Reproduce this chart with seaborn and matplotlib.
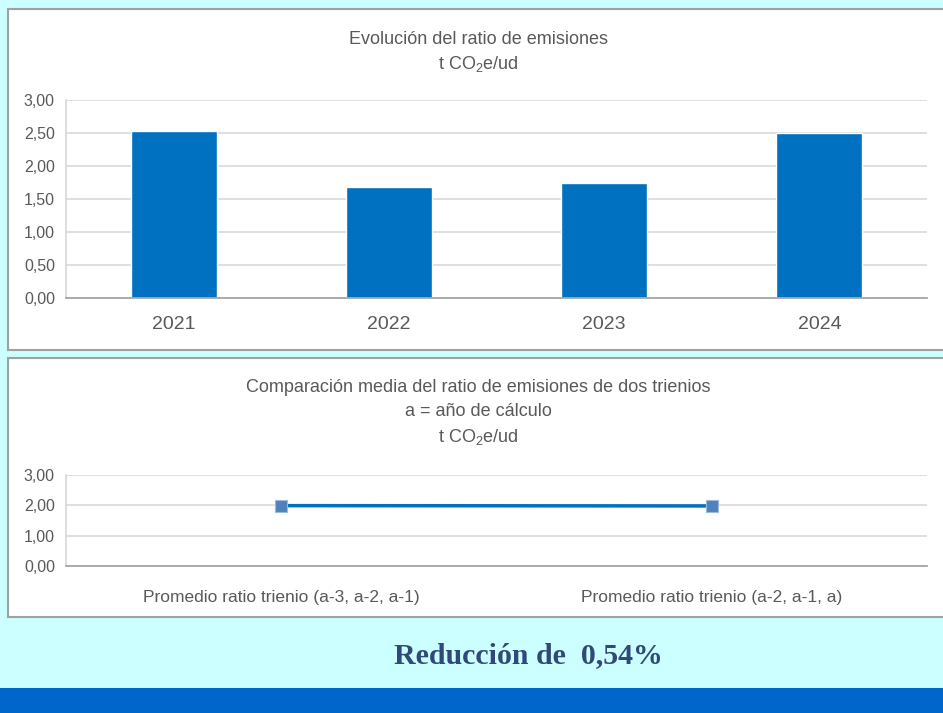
import pandas as pd
import matplotlib.pyplot as plt
import seaborn as sns
from matplotlib.patches import Rectangle

# Datos
years = ["2021", "2022", "2023", "2024"]
ratios = [2.53, 1.68, 1.75, 2.50]

periods = ["Promedio ratio trienio (a-3, a-2, a-1)", "Promedio ratio trienio (a-2, a-1, a)"]
period_means = [1.99, 1.98]

reduction_text = "Reducción de  0,54%"

W, H = 943, 713
BG = "#CCFFFF"
BAR = "#0070C0"
TXT = "#595959"
GRID = "#D9D9D9"

sns.set_theme(style="white")
plt.rcParams['font.family'] = ['Liberation Sans', 'DejaVu Sans']
plt.rcParams['mathtext.fontset'] = 'custom'
plt.rcParams['mathtext.rm'] = 'Liberation Sans'
plt.rcParams['mathtext.default'] = 'regular'

fig = plt.figure(figsize=(W / 100, H / 100), dpi=100, facecolor=BG)


def px_rect(x0, y0, x1, y1):
    # pixel coords (top-left origin) -> figure fraction
    return [x0 / W, 1 - y1 / H, (x1 - x0) / W, (y1 - y0) / H]


# paneles blancos (detrás de los ejes)
for (y0, y1) in [(9, 350), (358, 617)]:
    l, b, w, h = px_rect(8, y0, W + 5, y1)
    fig.patches.append(Rectangle((l, b), w, h, transform=fig.transFigure, zorder=-5,
                                 facecolor="white", edgecolor="#A0A0A0", linewidth=1.5))
# banda inferior
l, b, w, h = px_rect(0, 688, W, H)
fig.patches.append(Rectangle((l, b), w, h, transform=fig.transFigure, zorder=-5,
                             facecolor="#0066CC", edgecolor="none"))


def style_axes(ax):
    ax.set_facecolor("none")
    ax.grid(axis="y", color=GRID, linewidth=1.2)
    ax.set_axisbelow(True)
    for s in ["top", "right"]:
        ax.spines[s].set_visible(False)
    ax.spines["left"].set_color(GRID)
    ax.spines["bottom"].set_color("#A6A6A6")
    ax.spines["bottom"].set_linewidth(1.3)
    ax.tick_params(axis="both", length=0, colors=TXT)
    ax.set_xlabel("")
    ax.set_ylabel("")


def fmt(v):
    return f"{v:.2f}".replace(".", ",")


# --- Gráfico 1: barras ---
ax1 = fig.add_axes(px_rect(66, 100, 927, 298))
df1 = pd.DataFrame({"year": years, "ratio": ratios})
sns.barplot(data=df1, x="year", y="ratio", color=BAR, saturation=1, width=0.4, ax=ax1)
ax1.set_ylim(0, 3)
ax1.set_yticks([0, 0.5, 1, 1.5, 2, 2.5, 3])
ax1.set_yticklabels([fmt(v) for v in ax1.get_yticks()], fontsize=11.5)
ax1.tick_params(axis="x", labelsize=14, pad=13)
ax1.tick_params(axis="y", pad=8)
style_axes(ax1)
fig.text(478 / W, 1 - 40 / H, "Evolución del ratio de emisiones", ha="center", va="center",
         fontsize=13, color=TXT)
fig.text(478 / W, 1 - 64 / H, "t CO$_2$e/ud", ha="center", va="center", fontsize=13, color=TXT)

# --- Gráfico 2: línea ---
ax2 = fig.add_axes(px_rect(66, 475, 927, 566))
df2 = pd.DataFrame({"period": periods, "mean": period_means})
sns.pointplot(data=df2, x="period", y="mean", color=BAR, markers="s", ax=ax2,
              markersize=0, linewidth=2.5)
ax2.scatter(range(len(periods)), period_means, marker="s", s=80, color="#4F81BD",
            edgecolor="#9DB9DE", linewidth=0.8, zorder=5)
ax2.set_xlim(-0.5, 1.5)
ax2.set_ylim(0, 3)
ax2.set_yticks([0, 1, 2, 3])
ax2.set_yticklabels([fmt(v) for v in ax2.get_yticks()], fontsize=11.5)
ax2.tick_params(axis="x", labelsize=12.5, pad=17)
ax2.tick_params(axis="y", pad=8)
style_axes(ax2)
fig.text(478 / W, 1 - 388 / H, "Comparación media del ratio de emisiones de dos trienios",
         ha="center", va="center", fontsize=13, color=TXT)
fig.text(478 / W, 1 - 412 / H, "a = año de cálculo", ha="center", va="center", fontsize=13, color=TXT)
fig.text(478 / W, 1 - 437 / H, "t CO$_2$e/ud", ha="center", va="center", fontsize=13, color=TXT)

# --- texto de reducción ---
fig.text(528 / W, 1 - 656 / H, reduction_text, ha="center", va="center", fontsize=21.5,
         fontweight="bold", color="#2F4A7A", family=["Liberation Serif", "DejaVu Serif"])

plt.savefig("out.png", dpi=100, facecolor=BG)
